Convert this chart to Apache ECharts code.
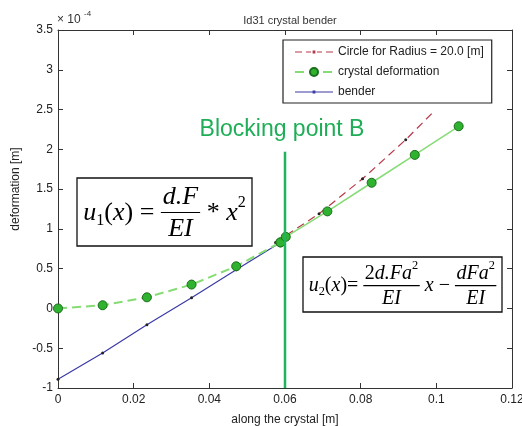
<!DOCTYPE html>
<html><head><meta charset="utf-8">
<script src="https://cdn.jsdelivr.net/npm/echarts@6/dist/echarts.min.js"></script>
<style>html,body{margin:0;padding:0;background:#fff}#c{width:522px;height:426px}</style>
</head><body><div id="c"></div>
<script>
// ---- data (deformation in units of 1e-4 m) ----
const xTicks = [0, 0.02, 0.04, 0.06, 0.08, 0.1, 0.12];
const yTicks = [-1, -0.5, 0, 0.5, 1, 1.5, 2, 2.5, 3, 3.5];
const circleX = [0.0575, 0.069, 0.0805, 0.0919, 0.099];
const circleY = [0.83, 1.19, 1.63, 2.12, 2.46];
const deformX = [0, 0.0118, 0.0235, 0.0353, 0.0471, 0.0588, 0.0602, 0.0712, 0.0829, 0.0943, 0.1059];
const deformY = [0, 0.04, 0.14, 0.30, 0.53, 0.83, 0.90, 1.22, 1.58, 1.93, 2.29];
const benderX = [0, 0.0118, 0.0235, 0.0353, 0.0471, 0.0588];
const benderY = [-0.89, -0.56, -0.205, 0.134, 0.486, 0.83];
const blockX = [0.06, 0.06];
const blockY = [-1, 1.97];
const names = ['Circle for Radius = 20.0 [m]', 'crystal deformation', 'bender'];

const zip = (a, b) => a.map((v, i) => [v, b[i]]);
const deformPts = zip(deformX, deformY);
const splitIdx = 5;

const SANS = "'Liberation Sans', Arial, sans-serif";
const SERIF = "'Liberation Serif', 'DejaVu Serif', serif";
const cv = document.createElement('canvas').getContext('2d');
function F(s, size) { return (s === 'i' ? 'italic ' : '') + size + 'px ' + SERIF; }
function mw(font, t) { cv.font = font; return cv.measureText(t).width; }

function rowWidth(items, B) {
  let w = 0;
  for (const it of items) {
    if (it.frac) { w += fracW(it, B); }
    else w += mw(F(it.s, B * (it.k || 1)), it.t);
  }
  return w;
}
function fracW(it, B) { return Math.max(rowWidth(it.frac[0], B), rowWidth(it.frac[1], B)) + B * 0.15; }
function drawRow(items, B, x, y, out) {
  for (const it of items) {
    if (it.frac) {
      const w = fracW(it, B);
      const nw = rowWidth(it.frac[0], B), dw = rowWidth(it.frac[1], B);
      drawRow(it.frac[0], B, x + (w - nw) / 2, y - 0.62 * B, out);
      drawRow(it.frac[1], B, x + (w - dw) / 2, y + 0.64 * B, out);
      out.push({ type: 'line', z: 101, shape: { x1: x, y1: y - 0.02 * B, x2: x + w, y2: y - 0.02 * B }, style: { stroke: '#000', lineWidth: 1.2 } });
      x += w;
    } else {
      const font = F(it.s, B * (it.k || 1));
      out.push({ type: 'text', z: 101, x: x, y: y + (it.dy || 0) * B, style: { text: it.t, font: font, fill: '#000', align: 'left', verticalAlign: 'middle' } });
      x += mw(font, it.t);
    }
  }
}
function formula(items, B, box, cy) {
  const out = [{ type: 'rect', z: 100, shape: box, style: { fill: '#fff', stroke: '#111', lineWidth: 1.3 } }];
  const w = rowWidth(items, B);
  drawRow(items, B, box.x + box.width / 2 - w / 2, cy, out);
  return out;
}
const u1 = [
  { t: 'u', s: 'i' }, { t: '1', s: 'r', k: 0.62, dy: 0.3 }, { t: '(', s: 'r' }, { t: 'x', s: 'i' }, { t: ') = ', s: 'r' },
  { frac: [[{ t: 'd.F', s: 'i' }], [{ t: 'EI', s: 'i' }]] },
  { t: ' * ', s: 'r' }, { t: 'x', s: 'i' }, { t: '2', s: 'r', k: 0.62, dy: -0.38 }
];
const u2 = [
  { t: 'u', s: 'i' }, { t: '2', s: 'r', k: 0.62, dy: 0.3 }, { t: '(', s: 'r' }, { t: 'x', s: 'i' }, { t: ')= ', s: 'r' },
  { frac: [[{ t: '2', s: 'r' }, { t: 'd.Fa', s: 'i' }, { t: '2', s: 'r', k: 0.62, dy: -0.38 }], [{ t: 'EI', s: 'i' }]] },
  { t: ' x', s: 'i' }, { t: ' \u2212 ', s: 'r' },
  { frac: [[{ t: 'dFa', s: 'i' }, { t: '2', s: 'r', k: 0.62, dy: -0.38 }], [{ t: 'EI', s: 'i' }]] }
];

const graphics = []
  .concat(formula(u1, 26, { x: 77, y: 178, width: 175, height: 68 }, 213))
  .concat(formula(u2, 20, { x: 303, y: 257, width: 199, height: 55 }, 286))
  .concat([
    { type: 'text', z: 102, x: 282, y: 130, style: { text: 'Blocking point B', font: '23px ' + SANS, fill: '#1fae57', align: 'center', verticalAlign: 'middle' } },
    { type: 'text', z: 102, x: 57, y: 20, style: { text: '\u00d7 10', font: '12px ' + SANS, fill: '#333', align: 'left', verticalAlign: 'middle' } },
    { type: 'text', z: 102, x: 84, y: 14, style: { text: '-4', font: '8px ' + SANS, fill: '#333', align: 'left', verticalAlign: 'middle' } }
  ]);

const axisCommon = {
  axisLine: { onZero: false, lineStyle: { color: '#333', width: 1 } },
  axisTick: { inside: true, length: 5, lineStyle: { color: '#333' } },
  splitLine: { show: false }
};
// legend icons: dashed / solid line with a small centre dot
const iconDashDot = 'path://M0 6.4h7v1.2h-7z M11 6.4h5v1.2h-5z M22 6.4h5v1.2h-5z M31 6.4h7v1.2h-7z M17.6 5.6h2.8v2.8h-2.8z';
const iconLineDot = 'path://M0 6.4h38v1.2h-38z M17.6 5.6h2.8v2.8h-2.8z';

const chart = echarts.init(document.getElementById('c'), null, { renderer: 'canvas' });
chart.setOption({
  backgroundColor: '#fff',
  animation: false,
  title: { text: 'Id31 crystal bender', left: 285, top: 10, textAlign: 'center', textStyle: { fontSize: 11, fontWeight: 'normal', color: '#333', fontFamily: SANS } },
  grid: { left: 58, right: 10, top: 30, bottom: 38, containLabel: false, outerBoundsMode: 'none' },
  legend: {
    data: [
      { name: names[0], icon: iconDashDot, itemStyle: { color: '#b8394a' } },
      { name: names[1] },
      { name: names[2], icon: iconLineDot, itemStyle: { color: '#3a3aa6' } }
    ],
    orient: 'vertical', left: 283, top: 40, width: 225,
    backgroundColor: '#fff', borderColor: '#222', borderWidth: 1.2, borderRadius: 0,
    padding: [6, 8, 5, 11], itemGap: 8, itemWidth: 38, itemHeight: 10,
    textStyle: { fontSize: 12, color: '#222', fontFamily: SANS }, z: 50
  },
  xAxis: [
    Object.assign({ type: 'value', position: 'bottom', min: xTicks[0], max: xTicks[xTicks.length - 1], interval: xTicks[1] - xTicks[0],
      name: 'along the crystal [m]', nameLocation: 'middle', nameGap: 26,
      nameTextStyle: { fontSize: 12, color: '#222', fontFamily: SANS },
      axisLabel: { fontSize: 12, color: '#222', margin: 6, fontFamily: SANS } }, axisCommon),
    Object.assign({ type: 'value', position: 'top', min: xTicks[0], max: xTicks[xTicks.length - 1], interval: xTicks[1] - xTicks[0],
      axisLabel: { show: false } }, axisCommon)
  ],
  yAxis: [
    Object.assign({ type: 'value', position: 'left', min: yTicks[0], max: yTicks[yTicks.length - 1], interval: yTicks[1] - yTicks[0],
      name: 'deformation [m]', nameLocation: 'middle', nameGap: 28,
      nameTextStyle: { fontSize: 12, color: '#222', fontFamily: SANS, padding: [0, 0, 0, 40] },
      axisLabel: { fontSize: 12, color: '#222', margin: 5, fontFamily: SANS } }, axisCommon),
    Object.assign({ type: 'value', position: 'right', min: yTicks[0], max: yTicks[yTicks.length - 1], interval: yTicks[1] - yTicks[0],
      axisLabel: { show: false } }, axisCommon)
  ],
  series: [
    { name: names[0], type: 'line', data: zip(circleX, circleY), symbol: 'circle',
      symbolSize: (v, p) => (p.dataIndex === circleX.length - 1 ? 0 : 3),
      lineStyle: { color: '#b8394a', width: 1.2, type: [8, 5] }, itemStyle: { color: '#222' }, z: 2 },
    { name: names[1], type: 'line', data: deformPts.slice(0, splitIdx + 1), symbol: 'circle', symbolSize: 9,
      lineStyle: { color: '#86dc74', width: 2, type: [9, 5] }, itemStyle: { color: '#2fb22f', borderColor: '#1b6e1b', borderWidth: 1 }, z: 4 },
    { name: names[1], type: 'line', data: deformPts.slice(splitIdx), symbol: 'circle', symbolSize: 9,
      lineStyle: { color: '#86dc74', width: 1.5 }, itemStyle: { color: '#2fb22f', borderColor: '#1b6e1b', borderWidth: 1 }, z: 4 },
    { name: names[2], type: 'line', data: zip(benderX, benderY), symbol: 'circle', symbolSize: 3,
      lineStyle: { color: '#3a3aa6', width: 1.2 }, itemStyle: { color: '#222' }, z: 3 },
    { name: 'Blocking point B', type: 'line', data: zip(blockX, blockY), symbol: 'none',
      lineStyle: { color: '#22b35e', width: 2.5 }, z: 5 }
  ],
  graphic: graphics
});
</script></body></html>
